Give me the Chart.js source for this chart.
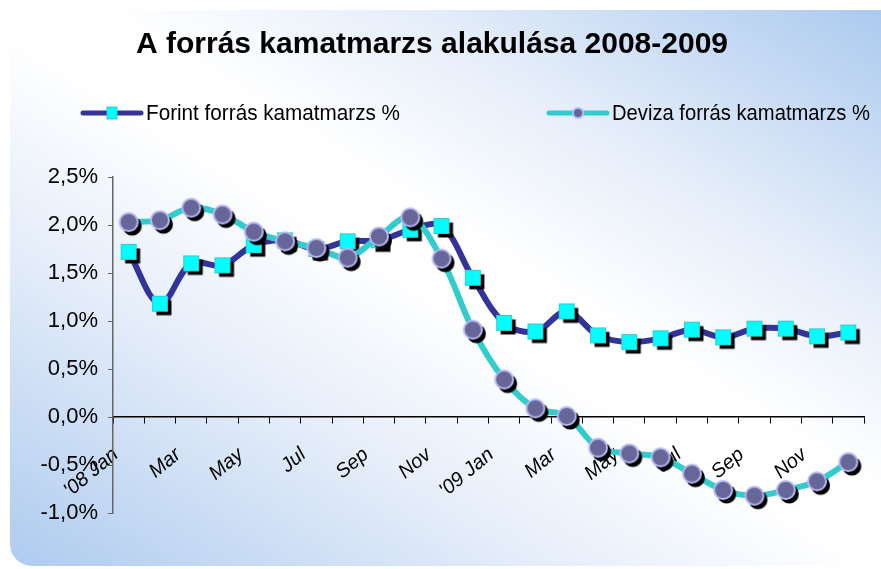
<!DOCTYPE html>
<html>
<head>
<meta charset="utf-8">
<script src="https://cdn.jsdelivr.net/npm/chart.js@4"></script>
<style>
  html, body { margin: 0; padding: 0; background: #fff; }
  #wrap { position: relative; width: 881px; height: 569px; overflow: hidden; }
  #panel {
    position: absolute; left: 10px; top: 10px; width: 900px; height: 556px;
    border-radius: 22px;
    background: linear-gradient(to top right, #aecbef 0%, #e6eefa 30%, #ffffff 48%, #ffffff 55%, #e6eefa 72%, #a8c8ee 100%);
  }
  #chart { position: absolute; left: 0; top: 0; }
</style>
</head>
<body>
<div id="wrap">
  <div id="panel"></div>
  <canvas id="chart" width="881" height="569"></canvas>
</div>
<script>
// months, only every other one gets a label on the axis
var months = ["'08 Jan", "Feb", "Mar", "Apr", "May", "Jun", "Jul", "Aug", "Sep", "Oct", "Nov", "Dec",
              "'09 Jan", "Feb", "Mar", "Apr", "May", "Jun", "Jul", "Aug", "Sep", "Oct", "Nov", "Dec"];

var forintData = [1.72, 1.18, 1.60, 1.58, 1.79, 1.84, 1.75, 1.83, 1.84, 1.95, 1.99, 1.45,
                  0.98, 0.89, 1.10, 0.85, 0.78, 0.82, 0.91, 0.83, 0.92, 0.92, 0.84, 0.88];

var devizaData = [2.03, 2.05, 2.18, 2.11, 1.93, 1.83, 1.76, 1.66, 1.88, 2.08, 1.65, 0.91,
                  0.39, 0.09, 0.01, -0.32, -0.38, -0.42, -0.59, -0.76, -0.82, -0.76, -0.67, -0.47];

var seriesNames = ["Forint forrás kamatmarzs %", "Deviza forrás kamatmarzs %"];
var chartTitle = "A forrás kamatmarzs alakulása 2008-2009";

var forintLine = "#333399";
var devizaLine = "#33cccc";

// marker images with a black drop shadow baked in
function squareMarker()
{
	var c = document.createElement("canvas");
	c.width = 34; c.height = 34;
	var g = c.getContext("2d");
	g.fillStyle = "#000";
	g.fillRect(13.5, 13.5, 15, 15);
	g.fillStyle = "#00ffff";
	g.fillRect(9.5, 9.5, 15, 15);
	g.strokeStyle = "#33cccc";
	g.lineWidth = 1;
	g.strokeRect(9.5, 9.5, 15, 15);
	return c;
}

function circleMarker()
{
	var c = document.createElement("canvas");
	c.width = 36; c.height = 36;
	var g = c.getContext("2d");
	g.fillStyle = "#000";
	g.beginPath(); g.arc(21.5, 22, 9.5, 0, Math.PI * 2); g.fill();
	g.fillStyle = "#666699";
	g.strokeStyle = "#b8b8f2";
	g.lineWidth = 2;
	g.beginPath(); g.arc(18, 18, 9, 0, Math.PI * 2); g.fill(); g.stroke();
	return c;
}

// legend drawn by hand, the two entries sit far apart
var topLegend = {
	id: "topLegend",
	afterDraw: function(chart)
	{
		var ctx = chart.ctx;
		var items = [
			{x: 83, text: seriesNames[0], color: forintLine, shape: "square", textW: 254},
			{x: 549, text: seriesNames[1], color: devizaLine, shape: "circle", textW: 258}
		];
		var y = 113;
		ctx.save();
		items.forEach(function(it)
		{
			ctx.strokeStyle = it.color;
			ctx.lineWidth = 5;
			ctx.lineCap = "round";
			ctx.beginPath(); ctx.moveTo(it.x, y); ctx.lineTo(it.x + 58, y); ctx.stroke();
			var cx = it.x + 29;
			if (it.shape == "square") {
				ctx.fillStyle = "#00ffff";
				ctx.fillRect(cx - 5, y - 6, 10, 12);
				ctx.strokeStyle = "#33cccc"; ctx.lineWidth = 1;
				ctx.strokeRect(cx - 5, y - 6, 10, 12);
			} else {
				ctx.fillStyle = "#666699";
				ctx.strokeStyle = "#b8b8f2"; ctx.lineWidth = 2;
				ctx.beginPath(); ctx.arc(cx, y, 5, 0, Math.PI * 2); ctx.fill(); ctx.stroke();
			}
			ctx.font = "22px 'Liberation Sans'";
			ctx.fillStyle = "#000";
			ctx.textBaseline = "middle";
			var w = ctx.measureText(it.text).width;
			ctx.save();
			ctx.translate(it.x + 63, y + 1);
			ctx.scale(it.textW / w, 1);
			ctx.fillText(it.text, 0, 0);
			ctx.restore();
		});
		ctx.restore();
	}
};

function fmtPct(v)
{
	return v.toFixed(1).replace(".", ",") + "%";
}

new Chart("chart",
{
	type: "line",
	data:
	{
		labels: months,
		datasets: [
		{
			label: seriesNames[0],
			data: forintData,
			borderColor: forintLine,
			borderWidth: 6,
			tension: 0.35,
			pointStyle: squareMarker(),
			pointRadius: 9,
			order: 2,
			fill: false
		},
		{
			label: seriesNames[1],
			data: devizaData,
			borderColor: devizaLine,
			borderWidth: 6,
			tension: 0.35,
			pointStyle: circleMarker(),
			pointRadius: 9,
			order: 1,
			fill: false
		}]
	},
	options:
	{
		responsive: false,
		animation: false,
		layout: {padding: {left: 0, right: 17, top: 0, bottom: 56}},
		plugins:
		{
			legend: {display: false},
			tooltip: {enabled: false},
			title:
			{
				display: true,
				text: chartTitle,
				color: "#000",
				font: {family: "'Liberation Sans'", size: 30, weight: "bold"},
				padding: {top: 27, bottom: 114}
			}
		},
		scales:
		{
			x:
			{
				position: {y: 0},
				offset: true,
				afterFit: function(scale) { scale.paddingRight = 0; },
				grid: {display: true, drawOnChartArea: false, offset: true, tickLength: 6, tickColor: "#000"},
				border: {display: true, color: "#000", width: 1.5},
				ticks:
				{
					autoSkip: false,
					maxRotation: 40,
					minRotation: 40,
					labelOffset: -13,
					padding: 20,
					color: "#000",
					font: {family: "'Liberation Sans'", size: 20, style: "italic"},
					callback: function(val, i) { return i % 2 == 0 ? months[i] : ""; }
				}
			},
			y:
			{
				min: -1,
				max: 2.5,
				afterFit: function(scale) { scale.width = 113; },
				grid: {display: true, drawOnChartArea: false, tickLength: 5, tickColor: "#666"},
				border: {display: true, color: "#666", width: 1.5},
				ticks:
				{
					stepSize: 0.5,
					padding: 10,
					color: "#000",
					font: {family: "'Liberation Sans'", size: 22},
					callback: function(v) { return fmtPct(v); }
				}
			}
		}
	},
	plugins: [topLegend]
});
</script>
</body>
</html>
